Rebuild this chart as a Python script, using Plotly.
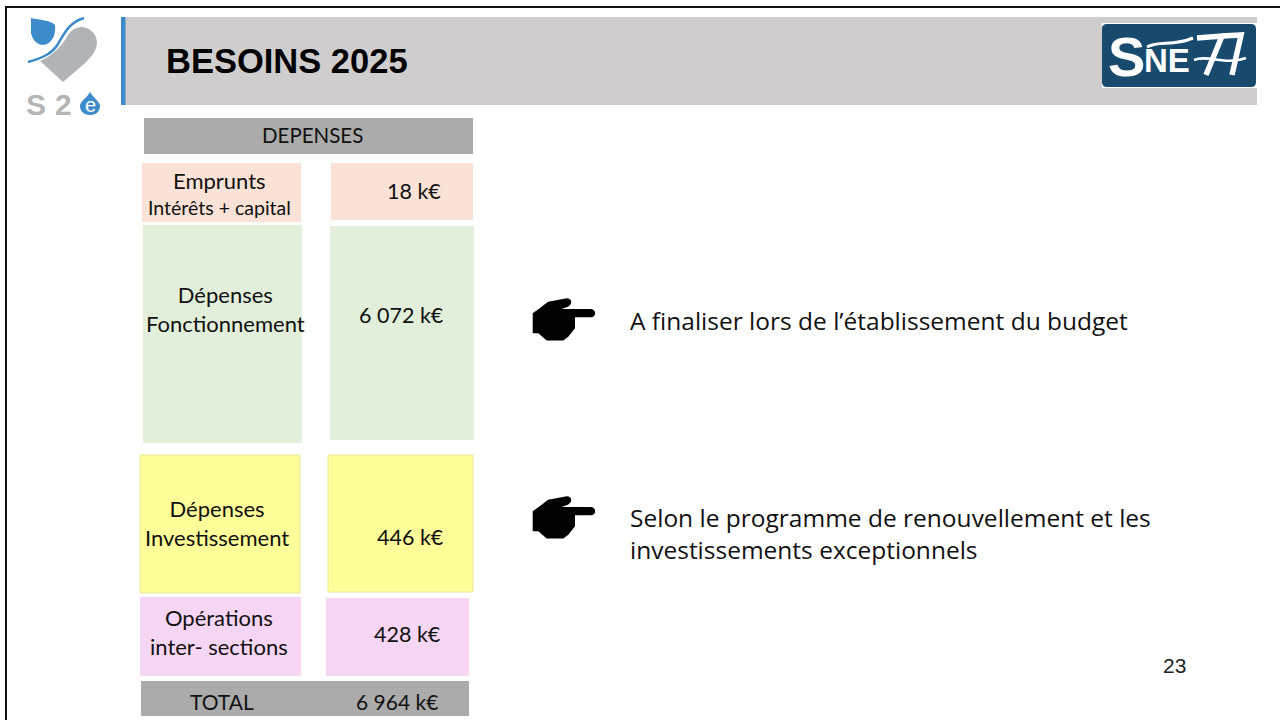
import plotly.graph_objects as go

# ---- content ----
title = "BESOINS 2025"
header = "DEPENSES"
row_labels = ["Emprunts", "Dépenses<br>Fonctionnement", "Dépenses<br>Investissement", "Opérations<br>inter- sections"]
row_values = ["18 k€", "6 072 k€", "446 k€", "428 k€"]
total_label = "TOTAL"
total_value = "6 964 k€"
notes = ["A finaliser lors de l’établissement du budget",
         "Selon le programme de renouvellement et les<br>investissements exceptionnels"]
page_number = "23"

BODY = "Lato"
NOTE = "Open Sans"
GREY = "#ABABAB"
row_colors = ["#FAE3D6", "#E2EFDA", "#FFFF99", "#F6D5F5"]

shapes = []
ann = []

def rect(x0, y0, x1, y1, fill, line=None):
    shapes.append(dict(type="rect", x0=x0, y0=y0, x1=x1, y1=y1, fillcolor=fill, layer="below",
                       line=dict(width=1 if line else 0, color=line or fill)))

def path(d, fill=None, line=None, width=0):
    shapes.append(dict(type="path", path=d, fillcolor=fill or "rgba(0,0,0,0)", layer="below",
                       line=dict(width=width, color=line or "rgba(0,0,0,0)")))

def text(x, y, s, size, color="#111111", font=BODY, anchor="center", bold=False, align="center", italic=False):
    if bold:
        s = f"<b>{s}</b>"
    if italic:
        s = f"<i>{s}</i>"
    ann.append(dict(x=x, y=y, text=s, showarrow=False, xanchor=anchor, yanchor="middle", align=align,
                    font=dict(family=font, size=size, color=color)))

# slide frame
path("M 6 720 L 6 7 L 1280 7", line="#111111", width=2)

# title band
rect(121, 17, 1257, 105, "#CFCDCE")
rect(121, 17, 125.5, 105, "#3F8BCA")
text(164, 61, title, 34.5, color="#000000", font="Liberation Sans", anchor="left", bold=True)

# left logo
path("M 63 82 L 40 61 C 52 56 62 46 68 35 C 72 29 77 27 83 27 C 91 28 97 35 97 43 C 96 53 90 58 84 64 Z", fill="#B1B3B6")
path("M 31 18 C 40 20 50 20 55 25 C 56 34 53 41 47 44 C 40 47 33 42 31 33 Z", fill="#3E8BCB")
path("M 28 62 C 42 58 52 54 58 44 C 65 32 70 22 84 18", line="#3E8BCB", width=2.5)
text(35.5, 104, "S", 30, color="#B5B5B5", font="Liberation Sans", bold=True)
text(63, 104, "2", 30, color="#B5B5B5", font="Liberation Sans", bold=True)
path("M 90 92 C 94 99 101 102 100 107 C 99 113 95 115 90 115 C 85 115 80 112 80 106 C 80 101 86 99 90 92 Z", fill="#3E8BCB")
text(90, 105, "e", 20, color="#FFFFFF", font="Liberation Sans")

# right logo
rect(1102, 23, 1257, 88, "#FFFFFF")
path("M 1107 24 L 1251 24 Q 1256 24 1256 29 L 1256 82 Q 1256 87 1251 87 L 1107 87 Q 1102 87 1102 82 L 1102 29 Q 1102 24 1107 24 Z", fill="#174A6C")
text(1126, 56, "S", 56, color="#FFFFFF", font="Liberation Sans", bold=True)
text(1167, 60, "NE", 33, color="#FFFFFF", font="Liberation Sans", bold=True)
path("M 1147 47 C 1160 40 1172 47 1193 38", line="#FFFFFF", width=3)
path("M 1197 38 L 1222 36 L 1206 75", line="#FFFFFF", width=5.5)
path("M 1222 36 L 1241 35 L 1232 75", line="#FFFFFF", width=5.5)
path("M 1194 60 C 1208 54 1225 66 1246 58", line="#FFFFFF", width=2.5)

# table
rect(144, 118, 473, 154, GREY)
text(312, 135, header, 20.5)

left_boxes = [(142, 163, 301, 222), (143, 225, 302, 443), (140, 455, 300, 593), (140, 597, 301, 676)]
right_boxes = [(331, 163, 473, 220), (330, 226, 474, 440), (328, 455, 473, 592), (326, 598, 469, 676)]
label_pos = [(219, 180), (225, 309), (217, 523), (219, 632)]
value_pos = [(414, 191), (401, 315), (410, 537), (407, 634)]
borders = [None, None, "#E6E69A", None]

for i in range(4):
    rect(*left_boxes[i], row_colors[i], borders[i])
    rect(*right_boxes[i], row_colors[i], borders[i])
    text(*label_pos[i], row_labels[i], 22)
    text(*value_pos[i], row_values[i], 21.5)
text(219, 207, "Intérêts + capital", 19.5)

rect(141, 681, 469, 716, GREY)
text(222, 701, total_label, 21)
text(396.5, 701, total_value, 21)

# pointing hands
def hand(dy):
    path(f"M 532.7 {313.3+dy} L 540 {308+dy} L 548 {301.7+dy} L 566.7 {298.3+dy} "
         f"C 572 {298.3+dy} 573 {304+dy} 568 {306.7+dy} L 561.7 {309+dy} L 591 {309+dy} "
         f"C 596.5 {309.5+dy} 596.5 {317+dy} 591 {317.3+dy} L 575 {317.3+dy} L 575 {328.3+dy} "
         f"L 568.3 {336.7+dy} L 563.3 {340.5+dy} L 546.7 {340.5+dy} L 538.3 {333.3+dy} L 532.7 {333.3+dy} Z",
         fill="#000000")
hand(0)
hand(198)

# notes
text(628, 320.5, notes[0], 24.5, anchor="left", align="left", font=NOTE)
text(628, 533, notes[1], 24.5, anchor="left", align="left", font=NOTE)
text(1174, 665.5, page_number, 21, font="Liberation Sans", color="#222222")

fig = go.Figure()
fig.update_layout(
    width=1280, height=720, margin=dict(l=0, r=0, t=0, b=0),
    paper_bgcolor="#FFFFFF", plot_bgcolor="#FFFFFF", showlegend=False,
    xaxis=dict(range=[0, 1280], visible=False, fixedrange=True),
    yaxis=dict(range=[720, 0], visible=False, fixedrange=True),
    shapes=shapes, annotations=ann,
)
fig.write_html("out.html", config={"displayModeBar": False},
               post_script="document.body.style.margin='0';document.body.style.overflow='hidden';")
